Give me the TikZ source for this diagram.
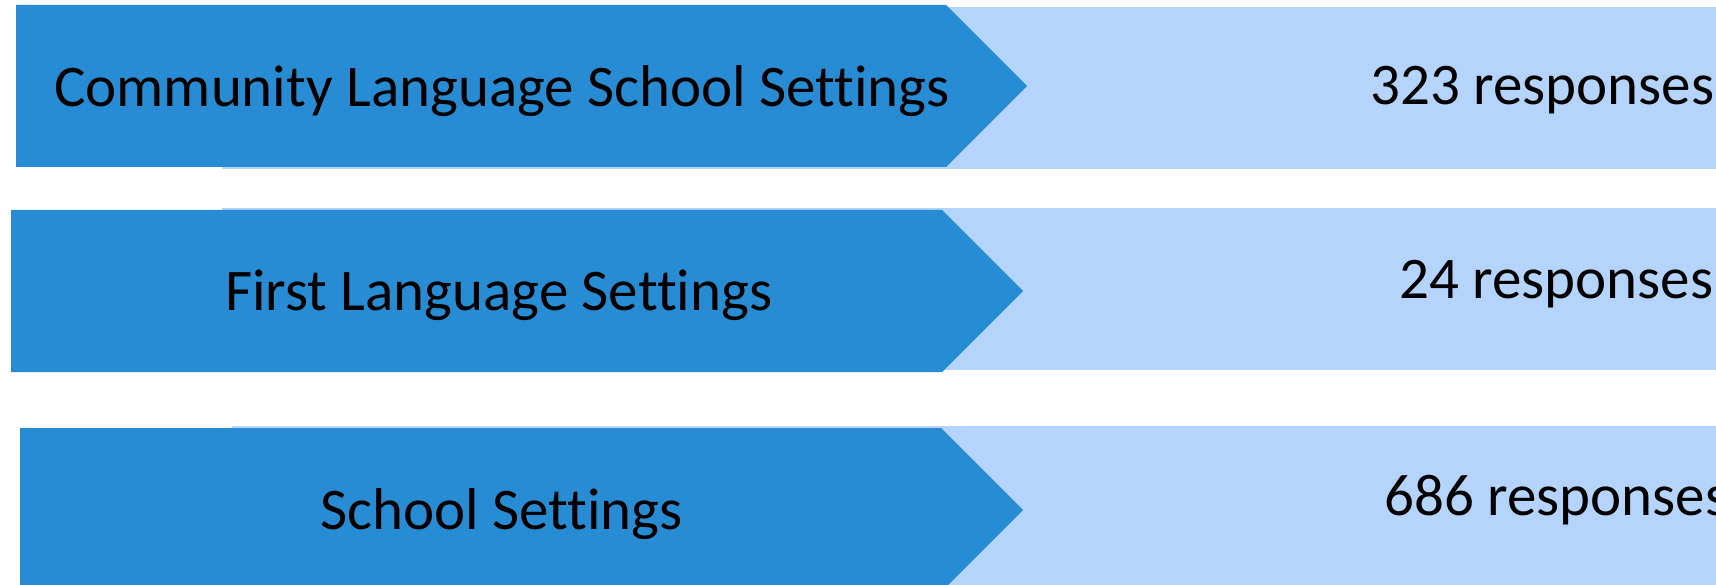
\documentclass[tikz,border=0pt]{standalone}
\usepackage{fontspec}
\setmainfont{Carlito}[Ligatures=NoCommon]
\definecolor{darkblue}{RGB}{40,140,212}
\definecolor{lightblue}{RGB}{180,212,252}
\tikzset{
  band/.style={fill=lightblue, draw=none},
  arrowbox/.style={fill=darkblue, draw=none},
  label/.style={inner sep=0pt, anchor=base west, font=\fontsize{59}{59}\selectfont, text=black}
}
\begin{document}
\begin{tikzpicture}[x=1pt,y=-1pt]
\useasboundingbox (0,0) rectangle (1716,585);
\clip (0,0) rectangle (1716,585);
% light bands
\fill[band] (222,7) rectangle (1716,169);
\fill[band] (222,208) rectangle (1716,370);
\fill[band] (232,426) rectangle (1716,600);
% dark arrow boxes
\fill[arrowbox] (16,5) -- (946,5) -- (1027,86) -- (946,167) -- (16,167) -- cycle;
\fill[arrowbox] (11,210) -- (942,210) -- (1023,291) -- (942,372) -- (11,372) -- cycle;
\fill[arrowbox] (20,428) -- (941,428) -- (1023,510) -- (941,592) -- (20,592) -- cycle;
% labels
\node[label] (l1) at (54,107) {Community Language School Settings};
\node[label] (l2) at (225,311) {First Language Settings};
\node[label] (l3) at (320,529) {School Settings};
\node[label] (n1) at (1370,105) {323 responses};
\node[label] (n2) at (1399,299) {24 responses};
\node[label] (n3) at (1384,515) {686 responses};
\end{tikzpicture}
\end{document}
